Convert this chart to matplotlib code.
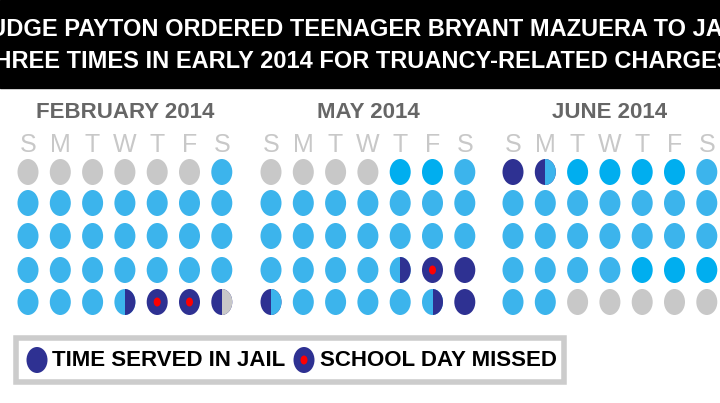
import matplotlib
matplotlib.use("Agg")
import matplotlib.pyplot as plt
from matplotlib.patches import Ellipse, Rectangle

# state codes: g gray, b blue, B bright blue, n navy (jail), m missed school day,
# two letters = left half / right half
months = ["FEBRUARY 2014", "MAY 2014", "JUNE 2014"]
weekdays = ["S", "M", "T", "W", "T", "F", "S"]
feb = [
    "g g g g g g b",
    "b b b b b b b",
    "b b b b b b b",
    "b b b b b b b",
    "b b b bn m m ng",
]
may = [
    "g g g g B B b",
    "b b b b b b b",
    "b b b b b b b",
    "b b b b bn m n",
    "nb b b b b bn n",
]
jun = [
    "n nb B B B B b",
    "b b b b b b b",
    "b b b b b b b",
    "b b b b B B B",
    "b b g g g g g",
]
title_lines = ["JUDGE PAYTON ORDERED TEENAGER BRYANT MAZUERA TO JAIL",
               "THREE TIMES IN EARLY 2014 FOR TRUANCY-RELATED CHARGES."]
legend_labels = ["TIME SERVED IN JAIL", "SCHOOL DAY MISSED"]

colors = {"g": "#c8c8c8", "b": "#3cb4ec", "B": "#00aeef", "n": "#2e3192", "m": "#2e3192"}
FONT = "Liberation Sans"

fig = plt.figure(figsize=(7.2, 4.03), dpi=100)
ax = fig.add_axes([0, 0, 1, 1])
ax.set_xlim(0, 720)
ax.set_ylim(403, 0)
ax.axis("off")

ax.add_patch(Rectangle((0, 0), 720, 88, color="black"))
for i, line in enumerate(title_lines):
    ax.text(360, 29 + i * 33, line, color="white", ha="center", va="center",
            fontsize=17, fontweight="bold", family=FONT)


def dot(x, y, code, w=21, h=26):
    left, right = code[0], code[-1]
    ax.add_patch(Ellipse((x, y), w, h, color=colors[left], lw=0))
    if right != left:
        e = Ellipse((x, y), w, h, color=colors[right], lw=0)
        ax.add_patch(e)
        clip = Rectangle((x, y - h), w, 2 * h, transform=ax.transData)
        e.set_clip_path(clip)
    if code == "m":
        ax.add_patch(Ellipse((x, y), 7, 9, color="red", lw=0))


x0s = [28, 271, 513]
dx = 32.3
rows_y = [172, 203, 236, 270, 302]
for m, (name, cal) in enumerate(zip(months, [feb, may, jun])):
    x0 = x0s[m]
    ax.text(x0 + 3 * dx, 113, name, color="#666666", ha="center", va="center",
            fontsize=16, fontweight="bold", family=FONT)
    for c, d in enumerate(weekdays):
        ax.text(x0 + c * dx, 145, d, color="#c8c8c8", ha="center", va="center",
                fontsize=18, family=FONT)
    for r, row in enumerate(cal):
        for c, code in enumerate(row.split()):
            dot(x0 + c * dx, rows_y[r], code)

ax.add_patch(Rectangle((16, 338), 548, 44, fill=False, ec="#cccccc", lw=4))
dot(37, 360, "n")
ax.text(52, 361, legend_labels[0], color="black", ha="left", va="center",
        fontsize=16, fontweight="bold", family=FONT)
dot(304, 360, "m")
ax.text(320, 361, legend_labels[1], color="black", ha="left", va="center",
        fontsize=16, fontweight="bold", family=FONT)

fig.savefig("out.png", dpi=100)
